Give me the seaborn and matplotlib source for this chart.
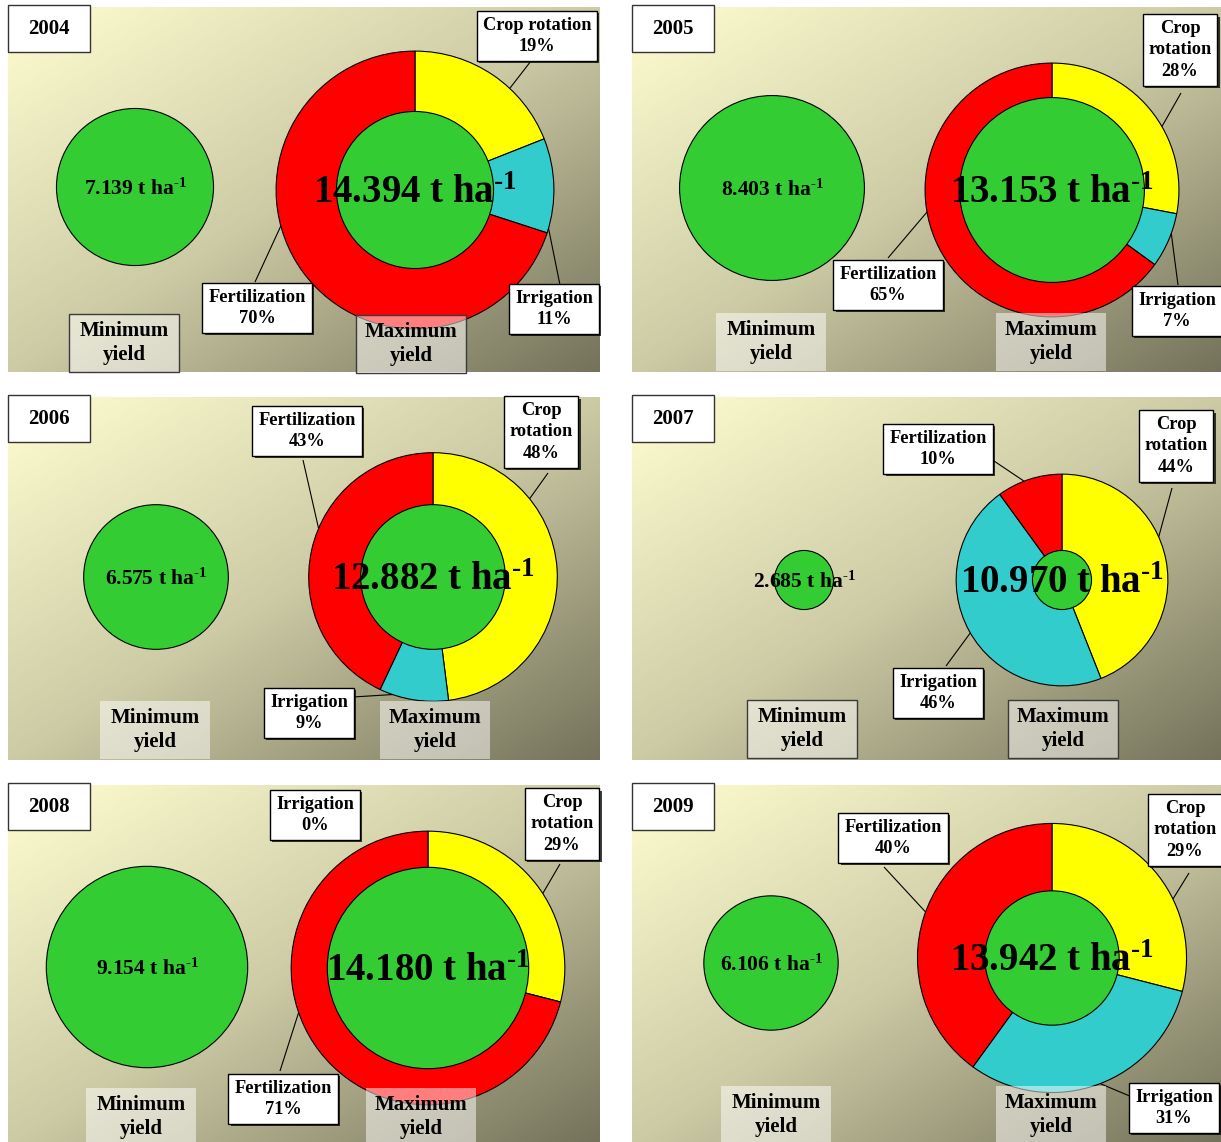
import numpy as np
import matplotlib
matplotlib.use("Agg")
import matplotlib.pyplot as plt
import matplotlib.patheffects as pe
from matplotlib.patches import Circle, Rectangle
from matplotlib.colors import LinearSegmentedColormap
import seaborn as sns

# ---- data -------------------------------------------------------------
years = ["2004", "2005", "2006", "2007", "2008", "2009"]
min_yield = [7.139, 8.403, 6.575, 2.685, 9.154, 6.106]      # t ha-1
max_yield = [14.394, 13.153, 12.882, 10.970, 14.180, 13.942]  # t ha-1
factors = ["Crop rotation", "Irrigation", "Fertilization"]
crop_rotation_pct = [19, 28, 48, 44, 29, 29]
irrigation_pct = [11, 7, 9, 46, 0, 31]
fertilization_pct = [70, 65, 43, 10, 71, 40]

# ---- style ------------------------------------------------------------
sns.set_theme(style="white")
plt.rcParams["font.family"] = ["Liberation Serif", "DejaVu Serif"]
plt.rcParams["text.color"] = "black"
plt.rcParams["mathtext.fontset"] = "custom"
plt.rcParams["mathtext.rm"] = "Liberation Serif:bold"
plt.rcParams["mathtext.it"] = "Liberation Serif:bold"
plt.rcParams["mathtext.bf"] = "Liberation Serif:bold"

factor_colors = dict(zip(factors, sns.color_palette(["#FFFF00", "#33CCCC", "#FF0000"])))
GREEN = "#33CC33"
bg_cmap = LinearSegmentedColormap.from_list(
    "panel_bg", [(0.0, "#FFFDD0"), (0.5, "#CDCBA5"), (1.0, "#74725A")])

W, H = 1221, 1142
K_MAX = 9.65   # px of radius per t ha-1 (donut)
K_MIN = 11.0   # px of radius per t ha-1 (minimum-yield disc)
UNIT = r" t ha$^{\text{-1}}$"


def Y(y):
    """pixel row (from top) -> data y"""
    return H - y


# panel layout in pixels from the top-left corner of the figure;
# each call-out: (box centre, leader end, preferred leader angle, single line)
PANELS = [
    dict(area=(8, 7, 600, 372), min_c=(135, 187), max_c=(415, 190), year=(49, 29),
         min_box=(124, 343), max_box=(411, 344), framed=True,
         labels={"Crop rotation": ((537, 36), (531, 61), 47, True),
                 "Irrigation": ((554, 309), (560, 285), -16, False),
                 "Fertilization": ((257, 308), (255, 282), 195, False)}),
    dict(area=(632, 7, 1221, 372), min_c=(772, 188), max_c=(1052, 190), year=(673, 29),
         min_box=(771, 342), max_box=(1051, 342), framed=False,
         labels={"Crop rotation": ((1180, 50), (1181, 93), 30, False),
                 "Irrigation": ((1177, 311), (1178, 285), -20, False),
                 "Fertilization": ((888, 285), (888, 258), 190, False)}),
    dict(area=(8, 397, 600, 760), min_c=(156, 577), max_c=(433, 577), year=(49, 419),
         min_box=(155, 730), max_box=(435, 730), framed=False,
         labels={"Crop rotation": ((541, 432), (548, 473), 39, False),
                 "Irrigation": ((309, 713), (353, 697), -109, False),
                 "Fertilization": ((307, 431), (303, 460), 157, False)}),
    dict(area=(632, 397, 1221, 760), min_c=(804, 580), max_c=(1062, 580), year=(673, 419),
         min_box=(802, 729), max_box=(1063, 729), framed=True,
         labels={"Crop rotation": ((1176, 446), (1172, 488), 24, False),
                 "Irrigation": ((938, 693), (946, 666), 210, False),
                 "Fertilization": ((938, 449), (994, 461), 111, False)}),
    dict(area=(8, 785, 600, 1142), min_c=(147, 967), max_c=(428, 968), year=(49, 807),
         min_box=(141, 1117), max_box=(421, 1117), framed=False,
         labels={"Crop rotation": ((562, 824), (560, 864), 33, False),
                 "Irrigation": ((315, 815), None, 90, False),
                 "Fertilization": ((283, 1099), (280, 1071), 199, False)}),
    dict(area=(632, 785, 1221, 1142), min_c=(771, 963), max_c=(1052, 958), year=(673, 807),
         min_box=(776, 1115), max_box=(1051, 1115), framed=False,
         labels={"Crop rotation": ((1185, 830), (1189, 873), 26, False),
                 "Irrigation": ((1174, 1108), (1132, 1097), -69, False),
                 "Fertilization": ((893, 838), (884, 867), 160, False)}),
]

fig = plt.figure(figsize=(W / 100, H / 100), dpi=100)
fig.patch.set_facecolor("white")
ax = fig.add_axes([0, 0, 1, 1])

shadow = [pe.SimplePatchShadow(offset=(1.6, -1.6), shadow_rgbFace="black", alpha=0.75),
          pe.Normal()]


def wedge_anchor(cx, cy, R, start, end, angle):
    """point on the outer arc of the wedge [end, start] (deg), near `angle`"""
    best = None
    for k in (-2, -1, 0, 1, 2):
        a = angle + 360 * k
        c = min(max(a, end + 2), start - 2)
        if best is None or abs(c - a) < abs(best[0] - best[1]):
            best = (c, a)
    ang = np.radians(best[0])
    return cx + R * np.cos(ang), Y(cy) + R * np.sin(ang)


for i, p in enumerate(PANELS):
    x0, y0, x1, y1 = p["area"]
    w, h = x1 - x0, y1 - y0
    u = np.linspace(0, 1, w)[None, :]
    v = np.linspace(0, 1, h)[:, None]
    ax.imshow((u * 0.5 + v * 0.5), cmap=bg_cmap, vmin=0, vmax=1,
              extent=(x0, x1, Y(y1), Y(y0)), origin="upper", aspect="auto",
              zorder=0, interpolation="bilinear")

    # year tag
    yx, yy = p["year"]
    ax.add_patch(Rectangle((yx - 41, Y(yy + 23)), 82, 47, facecolor="white",
                           edgecolor="#333333", lw=1.0, zorder=6))
    ax.text(yx, Y(yy), years[i], ha="center", va="center", fontsize=15,
            fontweight="bold", zorder=7)

    # minimum-yield disc
    mx, my = p["min_c"]
    r_min = K_MIN * min_yield[i]
    ax.add_patch(Circle((mx, Y(my)), r_min, facecolor=GREEN, edgecolor="black",
                        lw=0.8, zorder=2))
    ax.text(mx, Y(my + 8), f"{min_yield[i]:.3f}" + UNIT, ha="center",
            va="baseline", fontsize=15.5, fontweight="bold", zorder=3)

    # maximum-yield donut: share of each factor in the yield gap
    cx, cy = p["max_c"]
    R = K_MAX * max_yield[i]
    shares = [crop_rotation_pct[i], irrigation_pct[i], fertilization_pct[i]]
    ax.pie(shares, colors=[factor_colors[f] for f in factors], startangle=90,
           counterclock=False, center=(cx, Y(cy)), radius=R, frame=True,
           wedgeprops=dict(edgecolor="black", linewidth=0.8, zorder=2))
    ax.add_patch(Circle((cx, Y(cy)), r_min, facecolor=GREEN, edgecolor="black",
                        lw=0.8, zorder=3))
    ax.text(cx, Y(cy + 13), f"{max_yield[i]:.3f}" + UNIT, ha="center",
            va="baseline", fontsize=28, fontweight="bold", zorder=4)

    # factor call-outs
    start = 90.0
    for f, s in zip(factors, shares):
        end = start - 3.6 * s
        (bx, by), lead, pref, one_line = p["labels"][f]
        if lead is not None:
            axx, ayy = wedge_anchor(cx, cy, R, start, end, pref)
            ax.plot([axx, lead[0]], [ayy, Y(lead[1])], color="black", lw=0.8,
                    zorder=5, solid_capstyle="butt")
        name = f if (one_line or f != "Crop rotation") else "Crop\nrotation"
        t = ax.text(bx, Y(by), f"{name}\n{s}%", ha="center", va="center",
                    fontsize=13.2, fontweight="bold", linespacing=1.32, zorder=6,
                    bbox=dict(boxstyle="square,pad=0.32", facecolor="white",
                              edgecolor="black", lw=1.0))
        t.get_bbox_patch().set_path_effects(shadow)
        start = end

    # Minimum / Maximum yield captions
    for (tx, ty), caption in ((p["min_box"], "Minimum\nyield"),
                              (p["max_box"], "Maximum\nyield")):
        ax.add_patch(Rectangle((tx - 55, Y(ty + 29)), 110, 58, facecolor="white",
                               alpha=0.5, edgecolor="none", zorder=8))
        if p["framed"]:
            ax.add_patch(Rectangle((tx - 55, Y(ty + 29)), 110, 58, facecolor="none",
                                   edgecolor="#3a3a3a", lw=1.0, zorder=8))
        ax.text(tx, Y(ty), caption, ha="center", va="center", fontsize=15,
                fontweight="bold", linespacing=1.3, zorder=9)

ax.set_xlim(0, W)
ax.set_ylim(0, H)
ax.set_aspect("auto")
ax.axis("off")

fig.savefig("out.png", dpi=100, facecolor="white")
